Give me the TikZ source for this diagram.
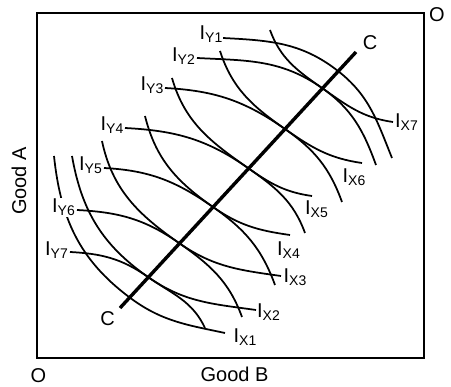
\documentclass[tikz,border=0pt]{standalone}
\usepackage{fontspec}
\setmainfont{Liberation Sans}
\newcommand{\ilab}[1]{I\raisebox{-3pt}{\fontsize{14}{14}\selectfont #1}}
\begin{document}
\begin{tikzpicture}[x=1pt,y=-1pt,
  curve/.style={line width=1.75pt},
  frame/.style={line width=1.8pt},
  cline/.style={line width=3.4pt},
  lab/.style={fill=white,inner sep=0.6pt,font=\fontsize{20}{20}\selectfont},
  txt/.style={inner sep=0pt,font=\fontsize{20}{20}\selectfont}]
\useasboundingbox (0,0) rectangle (451,387);
% frame
\draw[frame] (37,13) rectangle (424,358);
% contract curve
\coordinate (c1) at (120,308);
\coordinate (c2) at (356,52);
% tangency / crossing points
\coordinate (t2) at (148,277);
\coordinate (t3) at (179,243);
\coordinate (t4) at (213,207);
\coordinate (t5) at (248,168);
\coordinate (t6) at (285,129);
\coordinate (t7) at (322,88);
\coordinate (t1) at (129,297);
\coordinate (t8) at (338,71);
% I_X starts and ends
\coordinate (sx1) at (54,156);  \coordinate (ex1) at (225,333);
\coordinate (sx2) at (72,156);  \coordinate (ex2) at (256,310);
\coordinate (sx3) at (102,141); \coordinate (ex3) at (281,276);
\coordinate (sx4) at (145,116); \coordinate (ex4) at (290,235);
\coordinate (sx5) at (172,78);  \coordinate (ex5) at (312,196);
\coordinate (sx6) at (220,51);  \coordinate (ex6) at (362,163);
\coordinate (sx7) at (270,30);  \coordinate (ex7) at (393,122);
% I_Y starts and ends
\coordinate (sy1) at (223,38);  \coordinate (ey1) at (392,158);
\coordinate (sy2) at (197,58);  \coordinate (ey2) at (376,165);
\coordinate (sy3) at (165,88);  \coordinate (ey3) at (342,202);
\coordinate (sy4) at (125,128); \coordinate (ey4) at (305,233);
\coordinate (sy5) at (104,168); \coordinate (ey5) at (275,285);
\coordinate (sy6) at (77,210);  \coordinate (ey6) at (242,317);
\coordinate (sy7) at (70,252);  \coordinate (ey7) at (205,328);
% I_X curves
\draw[curve] (sx1) to[out=-84,in=143] (t1) to[out=-37,in=168] (ex1);
\draw[curve] (sx2) to[out=-80,in=145] (t2) to[out=-35,in=172] (ex2);
\draw[curve] (sx3) to[out=-78,in=145] (t3) to[out=-35,in=172] (ex3);
\draw[curve] (sx4) to[out=-76,in=145] (t4) to[out=-35,in=172] (ex4);
\draw[curve] (sx5) to[out=-74,in=145] (t5) to[out=-35,in=172] (ex5);
\draw[curve] (sx6) to[out=-72,in=145] (t6) to[out=-35,in=172] (ex6);
\draw[curve] (sx7) to[out=-70,in=145] (t7) to[out=-35,in=172] (ex7);
% I_Y curves
\draw[curve] (sy1) to[out=-3,in=142] (t8) to[out=-38,in=112] (ey1);
\draw[curve] (sy2) to[out=-3,in=145] (t7) to[out=-35,in=110] (ey2);
\draw[curve] (sy3) to[out=-3,in=145] (t6) to[out=-35,in=110] (ey3);
\draw[curve] (sy4) to[out=-3,in=145] (t5) to[out=-35,in=110] (ey4);
\draw[curve] (sy5) to[out=-3,in=145] (t4) to[out=-35,in=110] (ey5);
\draw[curve] (sy6) to[out=-3,in=145] (t3) to[out=-35,in=110] (ey6);
\draw[curve] (sy7) to[out=-3,in=145] (t2) to[out=-35,in=115] (ey7);
% contract curve line
\draw[cline] (c1) -- (c2);
% labels
\node[lab] (ly1) at (211,34.5) {\ilab{Y1}};
\node[lab] (ly2) at (183.5,56) {\ilab{Y2}};
\node[lab] (ly3) at (152,85.5) {\ilab{Y3}};
\node[lab] (ly4) at (112,125) {\ilab{Y4}};
\node[lab] (ly5) at (90.5,165.5) {\ilab{Y5}};
\node[lab] (ly6) at (63.5,207.5) {\ilab{Y6}};
\node[lab] (ly7) at (56.5,250.5) {\ilab{Y7}};
\node[lab] (lx7) at (406.5,122.5) {\ilab{X7}};
\node[lab] (lx6) at (354,177) {\ilab{X6}};
\node[lab] (lx5) at (316.5,209) {\ilab{X5}};
\node[lab] (lx4) at (288.5,250) {\ilab{X4}};
\node[lab] (lx3) at (295,277) {\ilab{X3}};
\node[lab] (lx2) at (268.5,312) {\ilab{X2}};
\node[lab] (lx1) at (245,337) {\ilab{X1}};
\node[txt] (clo) at (107.5,318.5) {C};
\node[txt] (chi) at (370,42.5) {C};
\node[txt] (ox) at (38.5,375.5) {O};
\node[txt] (oy) at (437,14.5) {O};
\node[txt] (gb) at (234.5,374.5) {Good B};
\node[txt,rotate=90] (ga) at (19,181) {Good A};
\end{tikzpicture}
\end{document}
